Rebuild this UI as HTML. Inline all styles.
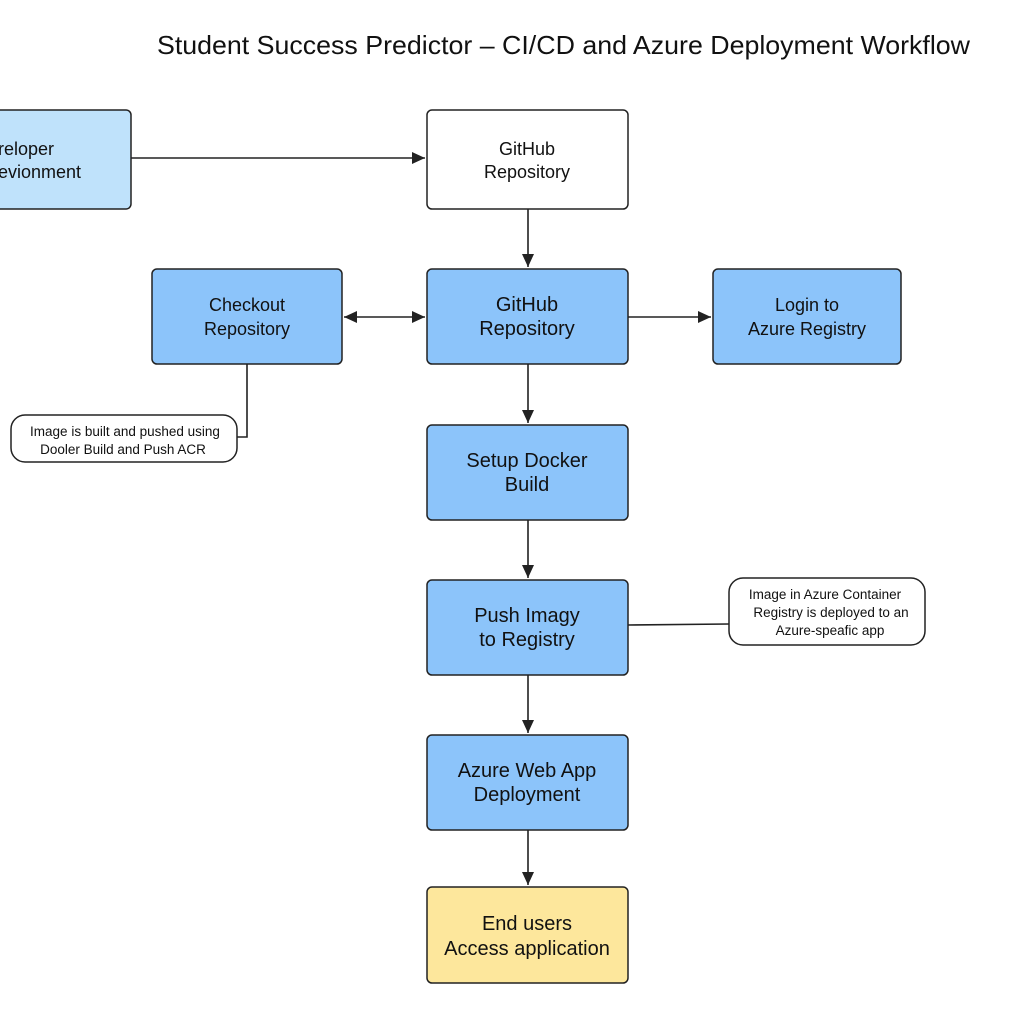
<!DOCTYPE html>
<html><head><style>
body{margin:0;width:1024px;height:1024px;background:#fff;overflow:hidden;font-family:"Liberation Sans","DejaVu Sans",sans-serif}
</style></head><body>
<svg width="1024" height="1024" viewBox="0 0 1024 1024" xmlns="http://www.w3.org/2000/svg" font-family="Liberation Sans, DejaVu Sans, sans-serif">
<defs><marker id="a" markerWidth="14" markerHeight="14" refX="13" refY="6" orient="auto-start-reverse" markerUnits="userSpaceOnUse"><path d="M0,0 L13,6 L0,12 z" fill="#222"/></marker></defs>
<text x="157" y="54" font-size="26" textLength="813" lengthAdjust="spacingAndGlyphs" fill="#111">Student Success Predictor – CI/CD and Azure Deployment Workflow</text>
<g stroke="#222" stroke-width="1.6" fill="none">
<line x1="131" y1="158" x2="425" y2="158" marker-end="url(#a)"/>
<line x1="528" y1="209" x2="528" y2="267" marker-end="url(#a)"/>
<line x1="344" y1="317" x2="425" y2="317" marker-start="url(#a)" marker-end="url(#a)"/>
<line x1="628" y1="317" x2="711" y2="317" marker-end="url(#a)"/>
<line x1="528" y1="364" x2="528" y2="423" marker-end="url(#a)"/>
<line x1="528" y1="520" x2="528" y2="578" marker-end="url(#a)"/>
<line x1="528" y1="675" x2="528" y2="733" marker-end="url(#a)"/>
<line x1="528" y1="830" x2="528" y2="885" marker-end="url(#a)"/>
<polyline points="247,364 247,437 237,437"/>
<line x1="628" y1="625" x2="729" y2="624"/>
</g>
<g stroke="#222" stroke-width="1.5">
<rect x="-20" y="110" width="151" height="99" rx="5" fill="#bfe2fb"/>
<rect x="427" y="110" width="201" height="99" rx="5" fill="#fff"/>
<rect x="152" y="269" width="190" height="95" rx="5" fill="#8cc4fa"/>
<rect x="427" y="269" width="201" height="95" rx="5" fill="#8cc4fa"/>
<rect x="713" y="269" width="188" height="95" rx="5" fill="#8cc4fa"/>
<rect x="427" y="425" width="201" height="95" rx="5" fill="#8cc4fa"/>
<rect x="427" y="580" width="201" height="95" rx="5" fill="#8cc4fa"/>
<rect x="427" y="735" width="201" height="95" rx="5" fill="#8cc4fa"/>
<rect x="427" y="887" width="201" height="96" rx="5" fill="#fde79c"/>
<rect x="11" y="415" width="226" height="47" rx="14" fill="#fff"/>
<rect x="729" y="578" width="196" height="67" rx="14" fill="#fff"/>
</g>
<g font-size="18" fill="#111" text-anchor="middle">
<text x="-2" y="155" text-anchor="start">reloper</text><text x="-2" y="178" text-anchor="start">evionment</text>
<text x="527" y="155">GitHub</text><text x="527" y="178">Repository</text>
<text x="247" y="311">Checkout</text><text x="247" y="335">Repository</text>
<text x="527" y="311" font-size="20">GitHub</text><text x="527" y="335" font-size="20">Repository</text>
<text x="807" y="311">Login to</text><text x="807" y="335">Azure Registry</text>
<text x="527" y="467" font-size="20">Setup Docker</text><text x="527" y="491" font-size="20">Build</text>
<text x="527" y="622" font-size="20">Push Imagy</text><text x="527" y="646" font-size="20">to Registry</text>
<text x="527" y="777" font-size="20">Azure Web App</text><text x="527" y="801" font-size="20">Deployment</text>
<text x="527" y="930" font-size="20">End users</text><text x="527" y="955" font-size="20">Access application</text>
</g>
<g font-size="13.5" fill="#111" text-anchor="middle">
<text x="125" y="436">Image is built and pushed using</text>
<text x="123" y="454">Dooler Build and Push ACR</text>
<text x="825" y="599">Image in Azure Container</text>
<text x="831" y="617">Registry is deployed to an</text>
<text x="830" y="635">Azure-speafic app</text>
</g>
</svg>
</body></html>
